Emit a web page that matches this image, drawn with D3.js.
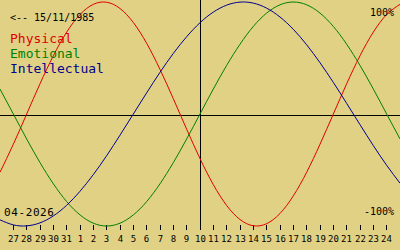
<!DOCTYPE html>
<html>
<head>
<meta charset="utf-8">
<script src="https://cdn.jsdelivr.net/npm/d3@7"></script>
<style>
html,body{margin:0;padding:0;background:#E0D184;}
svg{display:block;}
text{font-family:"DejaVu Sans Mono",monospace;}
</style>
</head>
<body>
<svg id="chart" width="400" height="250"></svg>
<script>
// Dates shown (26 Mar .. 25 Apr 2026); first and last sit on the chart edges
const dates = ["03-26","03-27","03-28","03-29","03-30","03-31","04-01","04-02","04-03","04-04","04-05","04-06","04-07","04-08","04-09","04-10","04-11","04-12","04-13","04-14","04-15","04-16","04-17","04-18","04-19","04-20","04-21","04-22","04-23","04-24","04-25"];
const tickDates = dates.slice(1, 30);
const tickLabels = ["27","28","29","30","31","1","2","3","4","5","6","7","8","9","10","11","12","13","14","15","16","17","18","19","20","21","22","23","24"];
const centreDate = "04-10";

const physical = [-0.520,-0.270,0,0.270,0.520,0.731,0.888,0.979,0.998,0.942,0.817,0.631,0.398,0.136,-0.136,-0.398,-0.631,-0.817,-0.942,-0.998,-0.979,-0.888,-0.731,-0.520,-0.270,0,0.270,0.520,0.731,0.888,0.979];
const emotional = [0.223,0,-0.223,-0.434,-0.623,-0.782,-0.901,-0.975,-1,-0.975,-0.901,-0.782,-0.623,-0.434,-0.223,0,0.223,0.434,0.623,0.782,0.901,0.975,1,0.975,0.901,0.782,0.623,0.434,0.223,0,-0.223];
const intellectual = [-0.945,-0.990,-0.999,-0.972,-0.910,-0.815,-0.690,-0.541,-0.372,-0.189,0,0.189,0.372,0.541,0.690,0.815,0.910,0.972,0.999,0.990,0.945,0.866,0.756,0.618,0.458,0.282,0.095,-0.095,-0.282,-0.458,-0.618];

const seriesNames = ["Physical","Emotional","Intellectual"];
const seriesColors = ["#E00000","#008000","#000090"];
const birthLabel = "<-- 15/11/1985";
const monthLabel = "04-2026";
const topLabel = "100%";
const bottomLabel = "-100%";

const W = 400, H = 250;
const svg = d3.select("#chart");

const x = d3.scalePoint().domain(dates).range([0, W]);
const y = d3.scaleLinear().domain([-1, 1]).range([226, 2]);

// zero axis
const y0 = Math.round(y(0)) + 1.5;
svg.append("line")
  .attr("x1", 0).attr("x2", W).attr("y1", y0).attr("y2", y0)
  .attr("stroke", "#000").attr("stroke-width", 1).attr("shape-rendering", "crispEdges");

// centre vertical line
const xc = Math.floor(x(centreDate)) + 0.5;
svg.append("line")
  .attr("x1", xc).attr("x2", xc).attr("y1", 0).attr("y2", 230)
  .attr("stroke", "#000").attr("stroke-width", 1).attr("shape-rendering", "crispEdges");

// ticks
const tickG = svg.append("g");
tickDates.forEach((d, i) => {
  const tx = Math.floor(x(d)) + 0.5;
  tickG.append("line")
    .attr("x1", tx).attr("x2", tx).attr("y1", 225).attr("y2", 230)
    .attr("stroke", "#000").attr("stroke-width", 1).attr("shape-rendering", "crispEdges");
  tickG.append("text")
    .attr("x", tx).attr("y", 242)
    .attr("text-anchor", "middle")
    .attr("font-size", 9)
    .attr("fill", "#000")
    .text(tickLabels[i]);
});

// curves
const gen = d3.line().x((v, i) => x(dates[i])).y(v => y(v)).curve(d3.curveNatural);
[physical, emotional, intellectual].forEach((s, k) => {
  svg.append("path")
    .attr("d", gen(s))
    .attr("fill", "none")
    .attr("stroke", seriesColors[k])
    .attr("stroke-width", 1);
});

// texts
svg.append("text").attr("x", 10).attr("y", 21).attr("font-size", 10).attr("fill", "#000").text(birthLabel);
seriesNames.forEach((n, k) => {
  svg.append("text").attr("x", 10).attr("y", 43 + 15 * k).attr("font-size", 13)
    .attr("fill", seriesColors[k]).text(n);
});
svg.append("text").attr("x", 394).attr("y", 16).attr("font-size", 10).attr("text-anchor", "end").attr("fill", "#000").text(topLabel);
svg.append("text").attr("x", 394).attr("y", 215).attr("font-size", 10).attr("text-anchor", "end").attr("fill", "#000").text(bottomLabel);
svg.append("text").attr("x", 4).attr("y", 216).attr("font-size", 11).attr("letter-spacing", 0.6).attr("fill", "#000").text(monthLabel);
</script>
</body>
</html>
